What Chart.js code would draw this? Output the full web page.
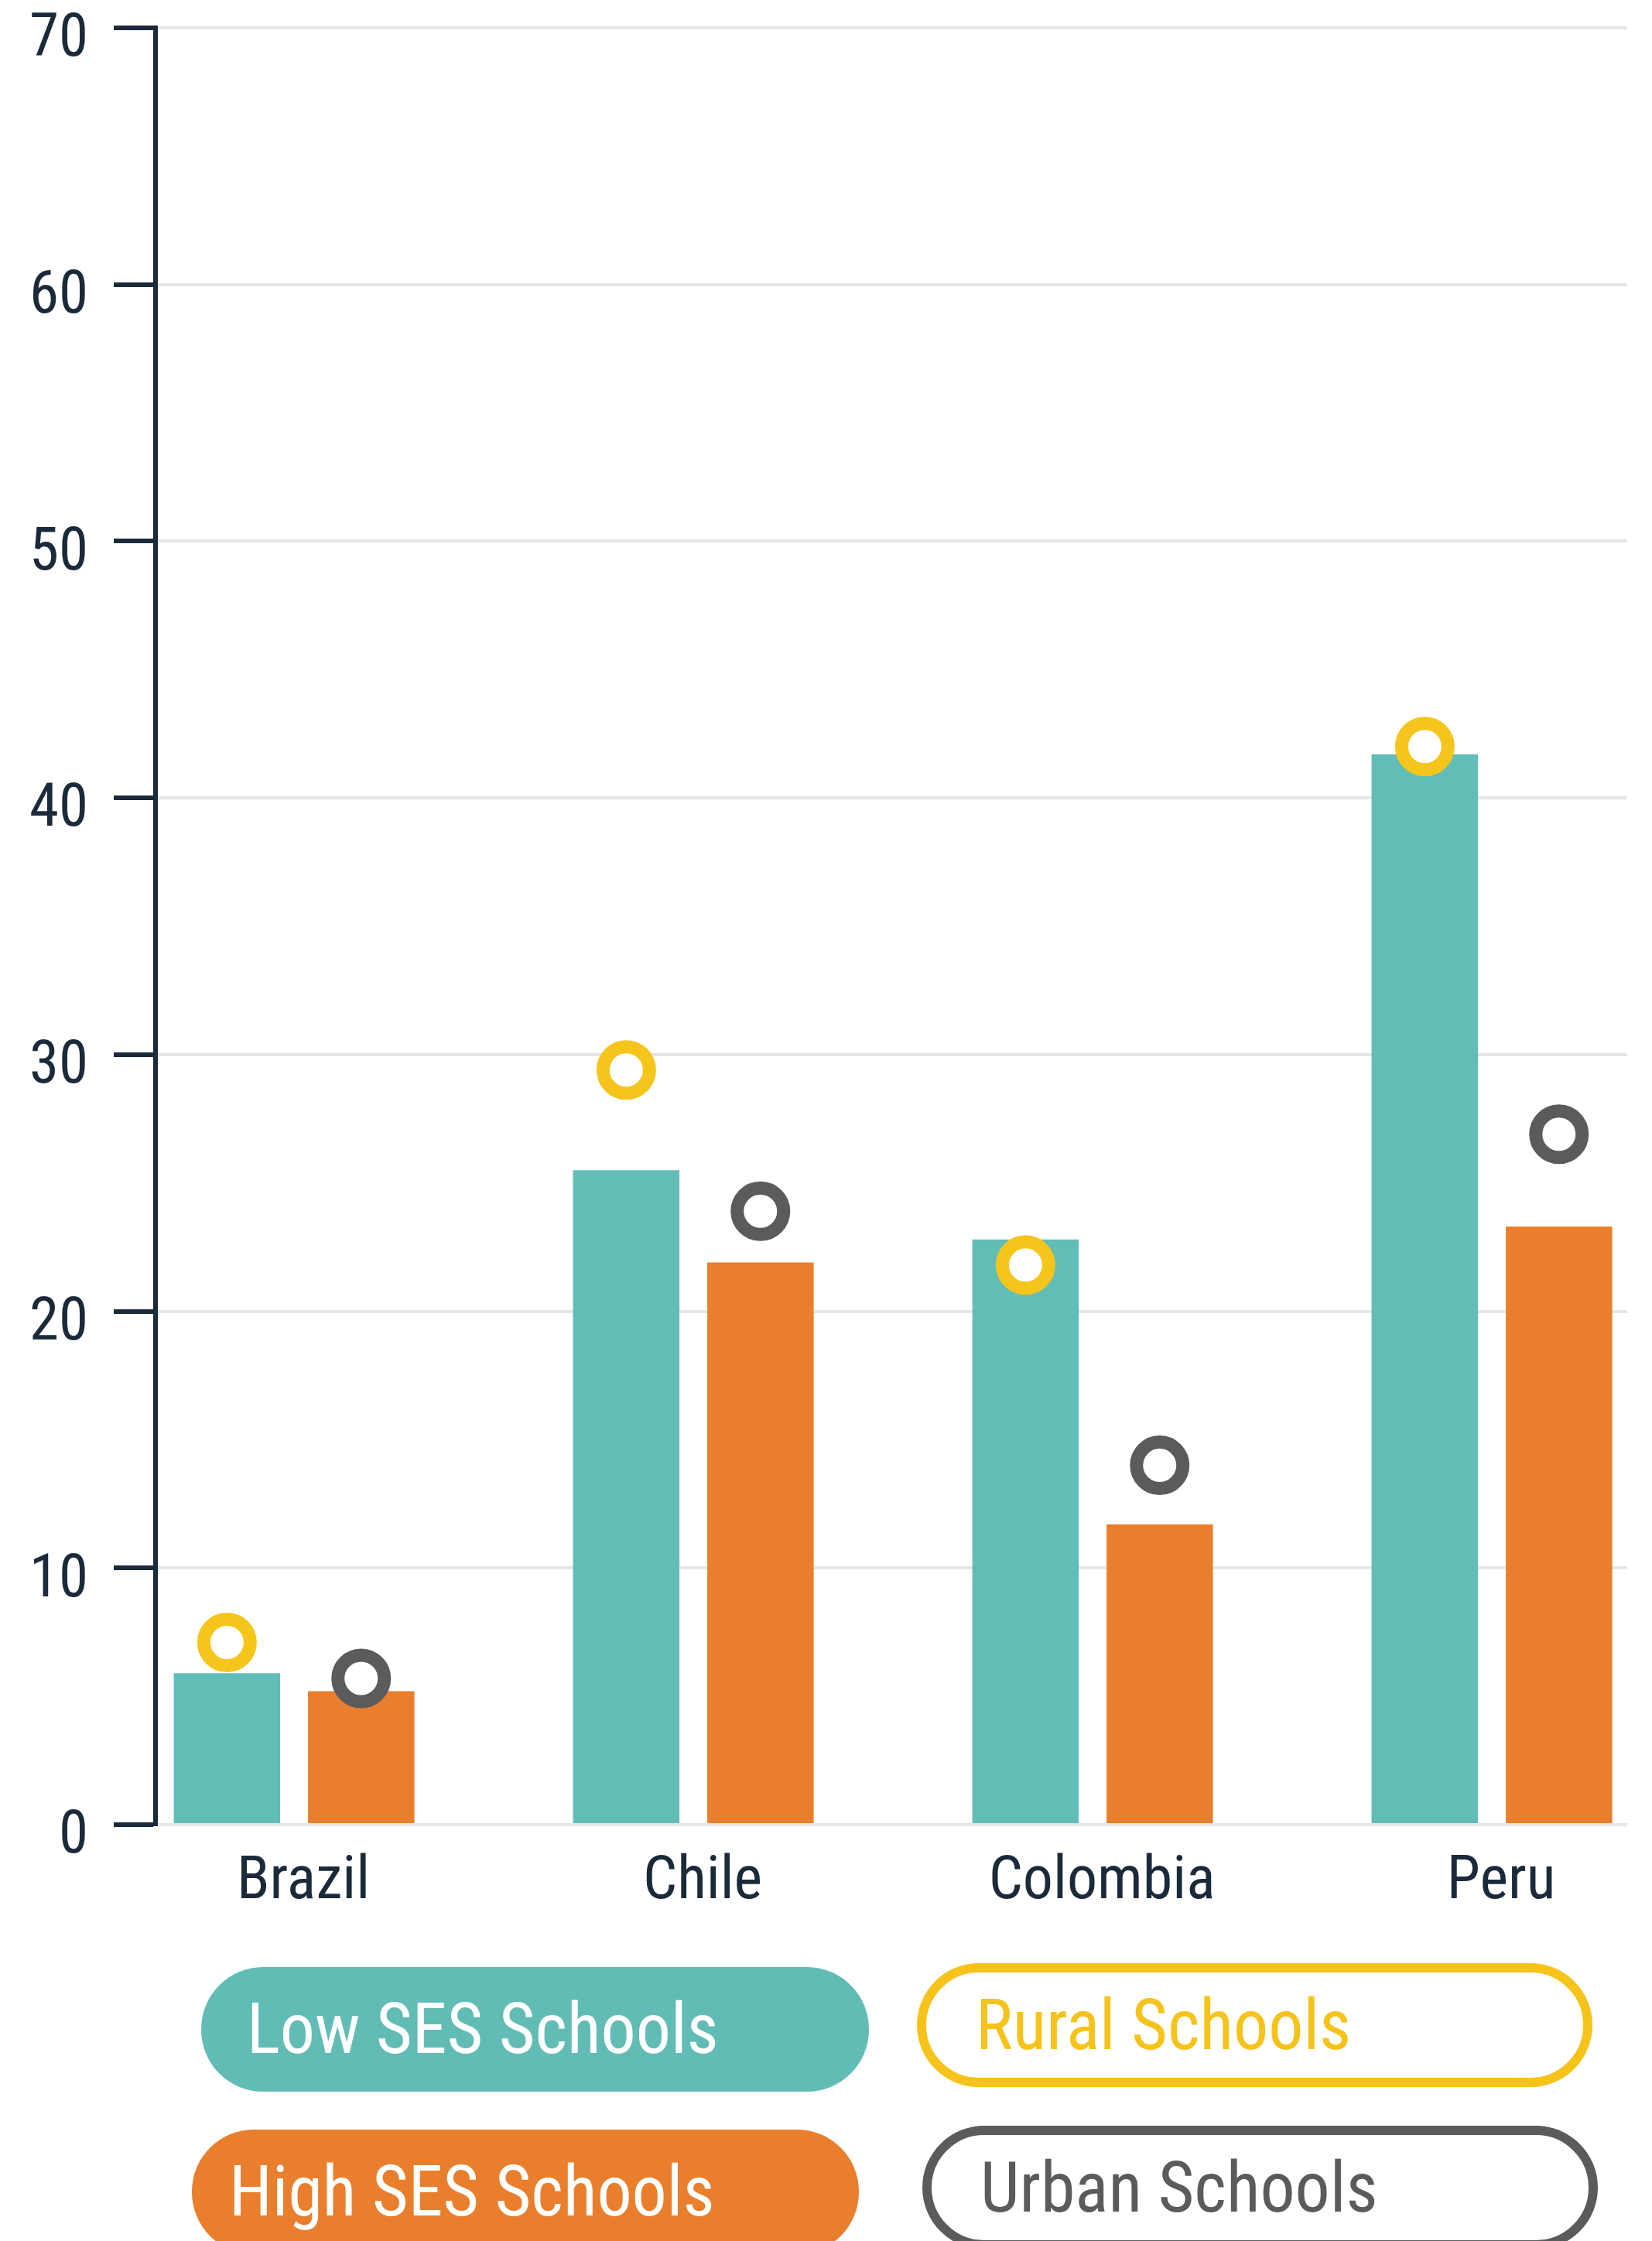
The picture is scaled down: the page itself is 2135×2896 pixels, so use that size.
<!DOCTYPE html>
<html>
<head>
<meta charset="utf-8">
<script src="https://cdn.jsdelivr.net/npm/chart.js@4.4.1/dist/chart.umd.min.js"></script>
<style>
  html, body { margin: 0; padding: 0; background: #fff; }
  body { width: 2135px; height: 2896px; position: relative; overflow: hidden;
         font-family: 'Roboto Condensed', 'Liberation Sans Narrow', 'Arial Narrow', Roboto, sans-serif; }
  #wrap { position: absolute; left: 0; top: 0; width: 2135px; height: 2500px; }
  .pill { position: absolute; box-sizing: border-box; height: 161px; border-radius: 80px;
          display: flex; align-items: center; font-size: 90px; white-space: nowrap; }
  .pill span { display: inline-block; }
</style>
</head>
<body>
<div id="wrap"><canvas id="chart"></canvas></div>

<div class="pill" id="lgLow"  style="left:260px; top:2542px; width:863px; background:#62bcb6; color:#fff; padding-left:59px;"><span>Low SES Schools</span></div>
<div class="pill" id="lgHigh" style="left:248px; top:2752px; width:862px; background:#e97e2c; color:#fff; padding-left:48px;"><span>High SES Schools</span></div>
<div class="pill" id="lgRural" style="left:1185px; top:2537px; width:873px; height:160px; border:12px solid #f6c31b; color:#f6c31b; padding-left:64px;"><span>Rural Schools</span></div>
<div class="pill" id="lgUrban" style="left:1192px; top:2747px; width:873px; height:160px; border:12px solid #5a5b5d; color:#5a5b5d; padding-left:63px;"><span>Urban Schools</span></div>

<script>
// data
const countries = ["Brazil", "Chile", "Colombia", "Peru"];
const lowSES = [5.9, 25.5, 22.8, 41.7];
const highSES = [5.2, 21.9, 11.7, 23.3];
const rural = [7.1, 29.4, 21.8, 42.0];
const urban = [5.7, 23.9, 14.0, 26.9];
const yTicks = [0, 10, 20, 30, 40, 50, 60, 70];

const navy = "#1b2a3a";
const fontFamily = "'Roboto Condensed', 'Liberation Sans Narrow', 'Arial Narrow', Roboto, sans-serif";

// half the distance between the two grouped bars, in category units
const barShift = 0.168;

const toPoints = (arr, shift) => arr.map((v, i) => ({ x: i + shift, y: v }));

const ring = (color) => ({
    pointRadius: 30,
    pointHoverRadius: 30,
    pointBorderWidth: 17,
    pointHoverBorderWidth: 17,
    pointBackgroundColor: "#ffffff",
    pointBorderColor: color,
    showLine: false
});

new Chart(document.getElementById("chart"), {
    type: "bar",
    data: {
        datasets: [
            {
                label: "Low SES Schools",
                data: toPoints(lowSES, 0),
                backgroundColor: "#62bdb7",
                categoryPercentage: 0.6725,
                barPercentage: 0.7925,
                order: 1
            },
            {
                label: "High SES Schools",
                data: toPoints(highSES, 0),
                backgroundColor: "#e97f2c",
                categoryPercentage: 0.6725,
                barPercentage: 0.7925,
                order: 1
            },
            Object.assign({
                type: "scatter",
                label: "Rural Schools",
                data: toPoints(rural, -barShift),
                order: 0
            }, ring("#f6c51b")),
            Object.assign({
                type: "scatter",
                label: "Urban Schools",
                data: toPoints(urban, barShift),
                order: 0
            }, ring("#5a5b5d"))
        ]
    },
    options: {
        responsive: true,
        maintainAspectRatio: false,
        devicePixelRatio: 1,
        animation: false,
        layout: { autoPadding: false, padding: { top: 36, right: 32, left: 0, bottom: 0 } },
        plugins: {
            legend: { display: false },
            tooltip: { enabled: false }
        },
        scales: {
            x: {
                type: "linear",
                offset: false,
                min: -0.347,
                max: 3.339,
                grid: { display: false, drawTicks: false, offset: false },
                border: { display: false },
                afterBuildTicks: (s) => {
                    s.ticks = countries.map((c, i) => ({ value: i }));
                },
                afterFit: (s) => {
                    s.height = 142;
                    s.paddingLeft = 0;
                    s.paddingRight = 0;
                },
                ticks: {
                    autoSkip: false,
                    maxRotation: 0,
                    padding: 29,
                    labelOffset: 12,
                    color: navy,
                    font: { family: fontFamily, size: 78 },
                    callback: (value) => countries[value]
                }
            },
            y: {
                min: 0,
                max: 70,
                afterBuildTicks: (s) => {
                    s.ticks = yTicks.map(v => ({ value: v }));
                },
                afterFit: (s) => {
                    s.width = 201;
                    s.paddingTop = 0;
                    s.paddingBottom = 0;
                },
                grid: {
                    color: "#e6e6e6",
                    lineWidth: 4,
                    drawTicks: true,
                    tickLength: 54,
                    tickColor: navy,
                    tickWidth: 6
                },
                border: { display: true, color: navy, width: 6 },
                ticks: {
                    padding: 33,
                    labelOffset: 17,
                    color: navy,
                    font: { family: fontFamily, size: 77 }
                }
            }
        }
    }
});
</script>
</body>
</html>
